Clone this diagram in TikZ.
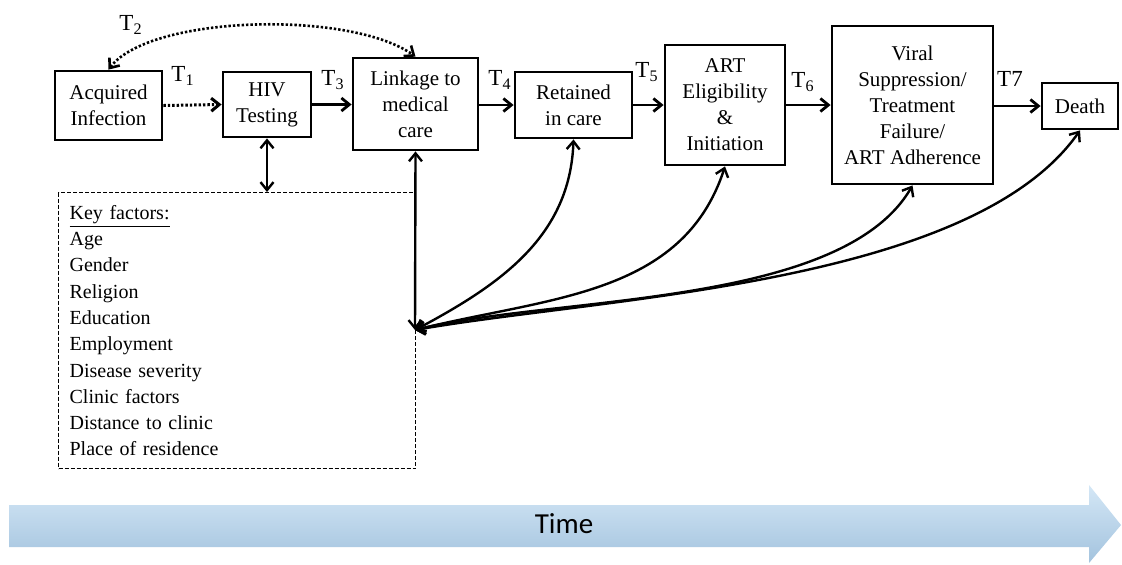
\documentclass[tikz,border=0pt]{standalone}
\usepackage{fontspec}
\setmainfont{Liberation Serif}
\newfontfamily\timefont{Carlito}
\usetikzlibrary{arrows.meta,calc}

\begin{document}
\begin{tikzpicture}[x=0.5pt,y=0.5pt,>={Straight Barb[length=4pt,width=6.5pt]},
    font=\fontsize{10.5}{13}\selectfont]
    \tikzstyle{stage}=[draw=black, line width=1.4pt, align=center, inner sep=0pt]
    \tikzstyle{tlab}=[font=\fontsize{11.5}{13}\selectfont, inner sep=0pt]
    \tikzstyle{flow}=[->, line width=1.4pt]
    \tikzstyle{dots}=[->, line width=1.5pt, dash pattern=on 1.2pt off 1pt]
    \tikzstyle{both}=[<->, line width=1.2pt]
    \useasboundingbox (0,0) rectangle (1122,-564);
    \node[stage, minimum width=53.5pt, minimum height=34.5pt] (Acq) at (108.5,-105.5) {Acquired\\Infection};
    \node[stage, minimum width=44pt, minimum height=32.5pt] (HIV) at (267,-104.5) {HIV\\Testing};
    \node[stage, minimum width=62.5pt, minimum height=46pt] (Link) at (415.5,-104) {Linkage to\\medical\\care};
    \node[stage, minimum width=58.5pt, minimum height=33pt] (Ret) at (573.5,-105) {Retained\\in care};
    \node[stage, minimum width=60pt, minimum height=60pt] (ART) at (725,-105) {ART\\Eligibility\\\&\\Initiation};
    \node[stage, minimum width=80.5pt, minimum height=79pt] (Vir) at (912.5,-105) {Viral\\Suppression/\\Treatment\\Failure/\\ART Adherence};
    \node[stage, minimum width=38pt, minimum height=23pt] (Dth) at (1080,-106) {Death};
    % transitions
    \draw[dots] (Acq.east) -- (HIV.west);
    \draw[flow] (HIV.east) -- (HIV.east -| Link.west);
    \draw[flow] (Link.east |- Ret.west) -- (Ret.west);
    \draw[flow] (Ret.east) -- (ART.west);
    \draw[flow] (ART.east) -- (Vir.west);
    \draw[flow] (Vir.east |- Dth.west) -- (Dth.west);
    \draw[dots, <->, line width=1.3pt] (Acq.north) .. controls (150,-15) and (350,-10) .. (Link.north);
    \node[tlab] (t1) at (183,-76) {T\textsubscript{1}};
    \node[tlab] (t2) at (131,-25) {T\textsubscript{2}};
    \node[tlab] (t3) at (333,-80) {T\textsubscript{3}};
    \node[tlab] (t4) at (500,-80) {T\textsubscript{4}};
    \node[tlab] (t5) at (647,-72) {T\textsubscript{5}};
    \node[tlab] (t6) at (803,-82) {T\textsubscript{6}};
    \node[tlab] (t7) at (1010,-79) {T7};
    % key factors
    \node[draw, line width=0.6pt, dash pattern=on 2pt off 1pt, anchor=north west,
          minimum width=178.5pt, minimum height=138pt, inner xsep=5.5pt,
          text width=167.5pt, align=left, font=\fontsize{10}{13.15}\selectfont]
          (keys) at (58,-192) {\underline{Key factors:}\\Age\\Gender\\Religion\\Education\\Employment\\Disease severity\\Clinic factors\\Distance to clinic\\Place of residence};
    \coordinate (hub) at (415,-330);
    \draw[both] (HIV.south) -- (HIV.south |- keys.north);
    \draw[both] (Link.south) -- (hub);
    \draw[both] (hub) to[out=28, in=-92] (Ret.south);
    \draw[both] (hub) to[out=14, in=-108] (ART.south);
    \draw[both] (hub) to[out=14, in=-120, looseness=0.7] (Vir.south);
    \draw[both] (hub) to[out=10, in=-125, looseness=0.7] (Dth.south);
    % time axis
    \shade[top color={rgb,255:red,212;green,231;blue,246}, bottom color={rgb,255:red,163;green,195;blue,222}]
        (9,-505) -- (1089,-505) -- (1089,-485) -- (1121,-525) -- (1089,-563) -- (1089,-547) -- (9,-547) -- cycle;
    \node[font=\timefont\fontsize{14.5}{16}\selectfont] (time) at (564,-524) {Time};
\end{tikzpicture}
\end{document}
